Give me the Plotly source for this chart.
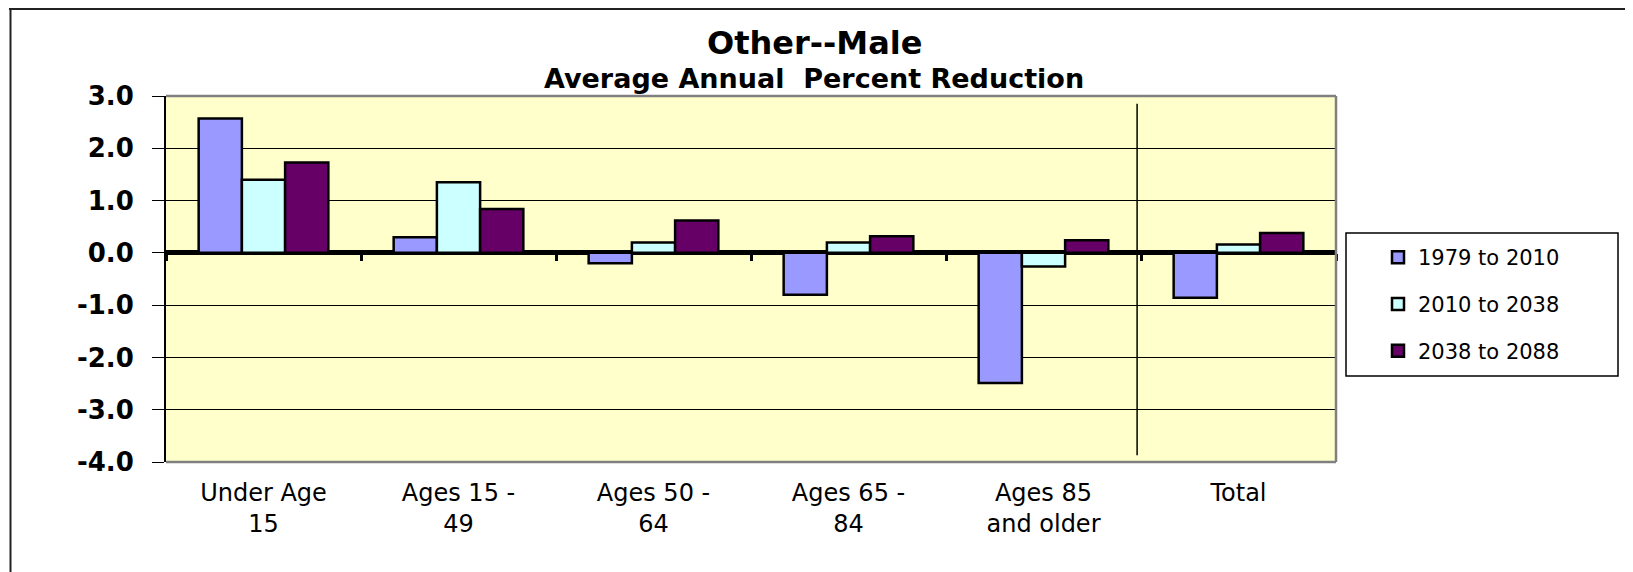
import plotly.graph_objects as go

# ---------------- data ----------------
categories = ["Under Age<br>15", "Ages 15 -<br>49", "Ages 50 -<br>64",
              "Ages 65 -<br>84", "Ages 85<br>and older", "Total"]
series_names = ["1979 to 2010", "2010 to 2038", "2038 to 2088"]
s_1979_2010 = [2.57, 0.30, -0.20, -0.80, -2.49, -0.86]
s_2010_2038 = [1.40, 1.35, 0.20, 0.20, -0.26, 0.16]
s_2038_2088 = [1.73, 0.84, 0.62, 0.32, 0.24, 0.38]
y_tickvals = [3, 2, 1, 0, -1, -2, -3, -4]
y_ticktext = ["3.0", "2.0", "1.0", "0.0", "-1.0", "-2.0", "-3.0", "-4.0"]
title_text = "Other--Male"
subtitle_text = "Average Annual  Percent Reduction"

# ---------------- style ----------------
colors = ["#9999FF", "#CCFFFF", "#660066"]
PAGE_W, PAGE_H = 1633, 572
BODY = 8                      # default html body margin of the page
W, H = PAGE_W - BODY, PAGE_H - BODY
PL, PR, PT, PB = 166, 1336, 96, 462   # plot area in page pixels
ML, MR, MT, MB = PL - BODY, PAGE_W - PR, PT - BODY, PAGE_H - PB
PW, PH = PR - PL, PB - PT


def px_x(px):
    return (px - PL) / PW


def px_y(py):
    return (PB - py) / PH


fig = go.Figure()
for name, vals, col in zip(series_names, [s_1979_2010, s_2010_2038, s_2038_2088], colors):
    fig.add_trace(go.Bar(
        x=categories, y=vals, name=name, legendgroup=name,
        marker=dict(color=col, line=dict(color="black", width=2.5)),
    ))

# helper (empty) trace so the tick-mark axis on the zero line is drawn
fig.add_trace(go.Scatter(x=[], y=[], xaxis="x2", yaxis="y", showlegend=False,
                         hoverinfo="skip"))

boundaries = [i - 0.5 for i in range(len(categories) + 1)]

shapes = [
    # divider between age groups and Total
    dict(type="line", xref="x", yref="y", x0=4.48, x1=4.48, y0=-3.87, y1=2.85,
         line=dict(color="black", width=1.5), layer="above"),
    # plot frame (top, right, bottom) in gray
    dict(type="line", xref="paper", yref="paper", x0=0, x1=1, y0=1, y1=1,
         line=dict(color="#808080", width=2.5), layer="above"),
    dict(type="line", xref="paper", yref="paper", x0=1, x1=1, y0=0, y1=1,
         line=dict(color="#808080", width=2.5), layer="above"),
    dict(type="line", xref="paper", yref="paper", x0=0, x1=1, y0=0, y1=0,
         line=dict(color="#808080", width=2.5), layer="above"),
    # legend box
    dict(type="rect", xref="paper", yref="paper",
         x0=px_x(1346), x1=px_x(1618), y0=px_y(376), y1=px_y(233),
         line=dict(color="black", width=1.5), fillcolor="white", layer="below"),
    # outer slide frame
    dict(type="line", xref="paper", yref="paper", x0=px_x(9), x1=px_x(PAGE_W + 5),
         y0=px_y(9), y1=px_y(9), line=dict(color="#222222", width=2)),
    dict(type="line", xref="paper", yref="paper", x0=px_x(10.5), x1=px_x(10.5),
         y0=px_y(9), y1=px_y(PAGE_H + 5), line=dict(color="#222222", width=2)),
]

annotations = [
    dict(text="<b>%s</b>" % title_text, xref="paper", yref="paper",
         x=px_x(814), y=px_y(43), xanchor="center", yanchor="middle",
         showarrow=False, font=dict(family="DejaVu Sans", size=32, color="black")),
    dict(text="<b>%s</b>" % subtitle_text, xref="paper", yref="paper",
         x=px_x(814), y=px_y(78.5), xanchor="center", yanchor="middle",
         showarrow=False, font=dict(family="DejaVu Sans", size=27, color="black")),
]

fig.update_layout(
    width=W, height=H,
    margin=dict(l=ML, r=MR, t=MT, b=MB, pad=0),
    paper_bgcolor="white", plot_bgcolor="#FFFFCC",
    barmode="group", bargap=0.335, bargroupgap=0,
    showlegend=True,
    legend=dict(x=px_x(1378), y=px_y(237), xanchor="left", yanchor="top",
                bgcolor="rgba(0,0,0,0)", borderwidth=0,
                traceorder="grouped", tracegroupgap=16.5,
                font=dict(family="DejaVu Sans", size=21, color="black"),
                itemwidth=30),
    xaxis=dict(type="category", showgrid=False, zeroline=False, showline=False,
               ticks="", tickfont=dict(family="DejaVu Sans", size=24, color="black"),
               ticklabelstandoff=14),
    xaxis2=dict(overlaying="x", anchor="free", position=px_y(253.3),
                range=[-0.5, len(categories) - 0.5], tickvals=boundaries,
                ticks="outside", ticklen=7, tickwidth=3, tickcolor="black",
                showticklabels=False, showgrid=False, zeroline=False, showline=False),
    yaxis=dict(range=[-4, 3], tickvals=y_tickvals, ticktext=y_ticktext,
               showgrid=True, gridcolor="black", gridwidth=1,
               zeroline=True, zerolinecolor="black", zerolinewidth=5,
               showline=True, linecolor="black", linewidth=2,
               ticks="outside", ticklen=12, tickcolor="black", tickwidth=1,
               ticklabelstandoff=13,
               tickfont=dict(family="DejaVu Sans", size=26, color="black", weight="bold")),
    shapes=shapes,
    annotations=annotations,
    font=dict(family="DejaVu Sans", color="black"),
)

fig.write_html("out.html")
